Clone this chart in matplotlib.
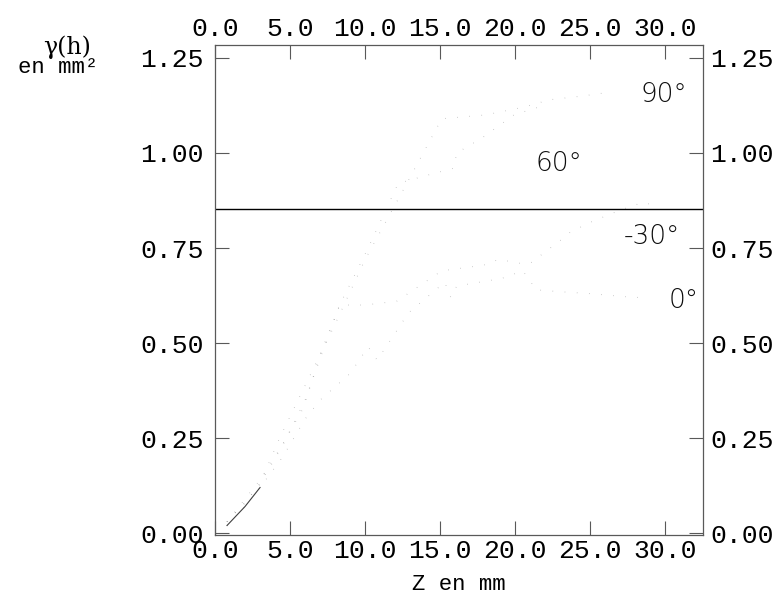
import numpy as np
import matplotlib.pyplot as plt
from matplotlib.transforms import ScaledTranslation

# experimental variograms by direction (lag in mm, gamma in mm^2)
lag_0 = [0.8, 2.0, 3.0, 4.5, 6.0, 7.0, 9.0, 10.2, 10.8, 12.9, 15.3, 15.7, 16.1,
         19.1, 20.5, 21.4, 23.0, 25.0, 27.9, 28.7]
gam_0 = [0.02, 0.07, 0.12, 0.20, 0.30, 0.35, 0.42, 0.49, 0.455, 0.58, 0.66, 0.62,
         0.65, 0.67, 0.69, 0.64, 0.635, 0.63, 0.62, 0.62]

lag_m30 = [0.8, 2.0, 3.0, 4.3, 5.9, 7.0, 8.3, 10.0, 12.1, 15.1, 17.9, 18.9, 20.3,
           21.0, 22.0, 23.0, 23.6, 24.9, 27.0, 28.5, 29.5]
gam_m30 = [0.03, 0.09, 0.14, 0.22, 0.33, 0.47, 0.60, 0.60, 0.61, 0.69, 0.705, 0.72,
           0.71, 0.71, 0.74, 0.77, 0.79, 0.816, 0.85, 0.87, 0.86]

lag_60 = [0.8, 2.0, 3.0, 4.5, 6.0, 8.3, 10.2, 12.2, 14.0, 15.9, 16.1, 17.8, 18.5,
          19.9, 21.5]
gam_60 = [0.03, 0.08, 0.13, 0.23, 0.35, 0.60, 0.75, 0.92, 0.94, 0.96, 1.00, 1.04,
          1.06, 1.10, 1.12]

lag_90 = [0.8, 2.0, 3.0, 4.3, 5.9, 8.0, 10.0, 12.5, 15.1, 18.0, 20.5, 22.3, 24.5, 26.3]
gam_90 = [0.03, 0.08, 0.13, 0.25, 0.38, 0.55, 0.72, 0.90, 1.09, 1.10, 1.12, 1.14,
          1.15, 1.16]

sill = 0.853

labels = ["0°", "-30°", "60°", "90°"]
label_x = [31.2, 29.1, 22.9, 29.9]
label_y = [0.613, 0.78, 0.971, 1.154]

xticks = [0, 5, 10, 15, 20, 25, 30]
yticks = [0.0, 0.25, 0.5, 0.75, 1.0, 1.25]

mono = "Liberation Mono"

fig = plt.figure(figsize=(7.81, 6.01), dpi=100)
ax = fig.add_axes([0.2753, 0.1098, 0.6248, 0.8153])

for lag, gam in [(lag_0, gam_0), (lag_m30, gam_m30), (lag_60, gam_60), (lag_90, gam_90)]:
    ax.plot(lag, gam, color="0.45", lw=0.7, ls=(0, (0.5, 12)), alpha=0.7)

# short dense start near the origin, where the four curves overlap
ax.plot(lag_0[:3], gam_0[:3], color="0.25", lw=0.8)

ax.axhline(sill, color="black", lw=1.0)

for txt, x, y in zip(labels, label_x, label_y):
    ax.text(x, y, txt, ha="center", va="center", fontsize=19,
            family="DejaVu Sans", color="0.05", fontweight="light")

ax.set_xlim(0, 32.5)
ax.set_ylim(-0.005, 1.284)
ax.set_xticks(xticks)
ax.set_yticks(yticks)
ax.set_xticklabels([f"{v:.1f}" for v in xticks], family=mono, fontsize=19)
ax.set_yticklabels([f"{v:.2f}" for v in yticks], family=mono, fontsize=19)
ax.tick_params(direction="in", length=10, width=0.8, color="0.35",
               top=True, right=True, labeltop=True, labelright=True, pad=3)
ax.tick_params(axis="y", pad=8)

# right-hand labels sit closer to the frame than the left ones
shift = ScaledTranslation(-2.5 / 72, 0, fig.dpi_scale_trans)
for t in ax.yaxis.get_major_ticks():
    t.label2.set_transform(t.label2.get_transform() + shift)

for sp in ax.spines.values():
    sp.set_color("0.35")
    sp.set_linewidth(0.9)

ax.set_xlabel("Z en mm", family=mono, fontsize=16, labelpad=8)
fig.text(0.086, 0.922, "γ(h)", family=["DejaVu Serif"], fontsize=17, ha="center", va="center")
fig.text(0.074, 0.887, "en mm²", family=mono, fontsize=16, ha="center", va="center")

fig.savefig("out.png", dpi=100)
